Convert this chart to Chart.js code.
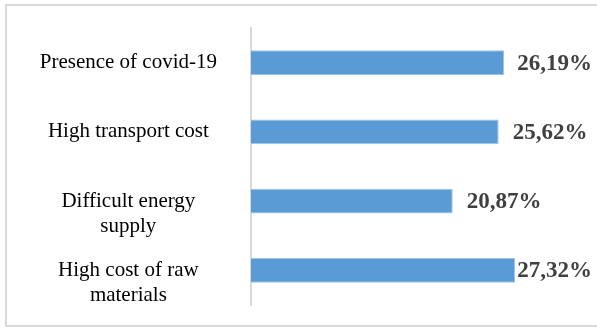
<!DOCTYPE html>
<html>
<head>
<meta charset="utf-8">
<script src="https://cdn.jsdelivr.net/npm/chart.js@4/dist/chart.umd.min.js"></script>
<style>
  html, body { margin: 0; padding: 0; background: #fff; }
  #wrap { position: relative; width: 597px; height: 329px; }
</style>
</head>
<body>
<div id="wrap"><canvas id="barrierChart" width="597" height="329"></canvas></div>
<script>
// categories, top to bottom (leading blank line drops the wrapped labels a little)
const categories = [
    'Presence of covid-19',
    'High transport cost',
    ['', 'Difficult energy', 'supply'],
    ['', 'High cost of raw', 'materials']
];
// share of respondents, percent
const shares = [26.19, 25.62, 20.87, 27.32];
const valueLabels = ['26,19%', '25,62%', '20,87%', '27,32%'];

const serif = '"Liberation Serif", "Times New Roman", serif';

// light frame around the whole figure
const framePlugin = {
    id: 'frame',
    beforeDraw(chart) {
        const c = chart.ctx;
        c.save();
        c.fillStyle = '#fff';
        c.fillRect(0, 0, chart.width, chart.height);
        c.strokeStyle = '#d9d9d9';
        c.lineWidth = 2;
        c.strokeRect(6, 5, chart.width + 10, chart.height - 8);
        c.restore();
    }
};

// bold value labels at the end of each bar, kept inside the frame
const valueLabelPlugin = {
    id: 'valueLabels',
    afterDatasetsDraw(chart) {
        const c = chart.ctx;
        const meta = chart.getDatasetMeta(0);
        c.save();
        c.font = 'bold 23px ' + serif;
        c.fillStyle = '#404040';
        c.textBaseline = 'middle';
        c.textAlign = 'left';
        meta.data.forEach((bar, i) => {
            const txt = valueLabels[i];
            const w = c.measureText(txt).width;
            const x = Math.min(bar.x + 14, 592 - w);
            c.fillText(txt, x, bar.y + 1);
        });
        c.restore();
    }
};

new Chart(document.getElementById('barrierChart'), {
    type: 'bar',
    data: {
        labels: categories,
        datasets: [{
            data: shares,
            backgroundColor: '#5b9bd5',
            borderColor: '#9dc3e6',
            borderWidth: 1,
            barPercentage: 0.36,
            categoryPercentage: 1
        }]
    },
    options: {
        indexAxis: 'y',
        responsive: false,
        animation: false,
        layout: { padding: { left: 0, right: 56, top: 28, bottom: 24 } },
        plugins: {
            legend: { display: false },
            tooltip: { enabled: false }
        },
        scales: {
            x: {
                display: false,
                min: 0,
                max: 30
            },
            y: {
                afterFit(scale) {
                    scale.width = 251;
                    scale.paddingTop = 0;
                    scale.paddingBottom = 0;
                },
                grid: { display: false, drawTicks: false },
                border: { display: true, color: '#d9d9d9', width: 2 },
                ticks: {
                    autoSkip: false,
                    crossAlign: 'center',
                    padding: 34,
                    color: '#000',
                    font: { family: serif, size: 21, lineHeight: 1.19 }
                }
            }
        }
    },
    plugins: [framePlugin, valueLabelPlugin]
});
</script>
</body>
</html>
